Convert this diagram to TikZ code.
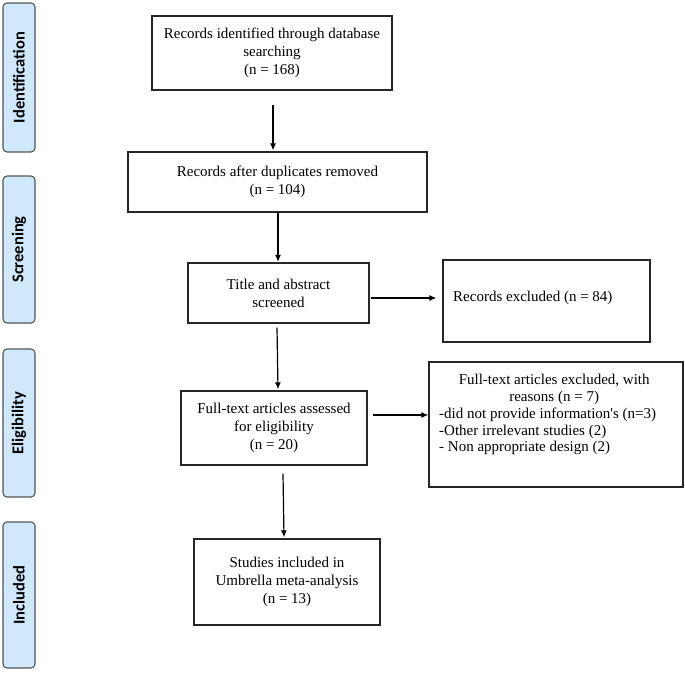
\documentclass[tikz,border=0pt]{standalone}
\usepackage{fontspec}
\setmainfont{Liberation Serif}
\newfontfamily\plainrm{Liberation Serif}[Ligatures=TeXOff]
\newfontfamily\sidefont{Carlito}
\usetikzlibrary{arrows.meta}
\definecolor{sidefill}{HTML}{CFE8FB}
\definecolor{sideline}{HTML}{555555}
\tikzset{
  mainbox/.style={draw=black!85, line width=1.3pt, rectangle, inner sep=0pt, align=center,
    font=\fontsize{15}{18}\selectfont},
  sidebox/.style={draw=sideline, fill=sidefill, line width=1.1pt, rounded corners=4pt,
    rotate=90, minimum height=32pt, inner sep=0pt, font=\sidefont\bfseries\fontsize{16.5}{19}\selectfont},
  arr/.style={line width=1.2pt, -{Latex[length=7pt,width=6pt]}},
}
\begin{document}
\begin{tikzpicture}[x=1pt,y=-1pt]
\useasboundingbox (0,0) rectangle (685,673);
% side labels
\node[sidebox, minimum width=149pt] (sId) at (19,77.5) {Identification};
\node[sidebox, minimum width=147pt] (sSc) at (19,249.5) {Screening};
\node[sidebox, minimum width=148pt] (sEl) at (19,423) {Eligibility};
\node[sidebox, minimum width=146pt] (sIn) at (19,595) {Included};
% main boxes
\node[mainbox, minimum width=240pt, minimum height=74pt] (b1) at (272,53)
  {Records identified through database\\searching\\(n = 168)};
\node[mainbox, minimum width=299pt, minimum height=60pt] (b2) at (277.5,182)
  {Records after duplicates removed\\(n = 104)};
\node[mainbox, minimum width=181pt, minimum height=60pt] (b3) at (278.5,293)
  {Title and abstract\\screened};
\node[mainbox, minimum width=207pt, minimum height=82pt] (b4) at (546.5,301) {};
\node[anchor=west, inner sep=0pt, font=\fontsize{15}{18}\selectfont] (t4) at (453,298) {Records excluded (n = 84)};
\node[mainbox, minimum width=186pt, minimum height=74pt] (b5) at (274,428)
  {Full-text articles assessed\\for eligibility\\(n = 20)};
\node[mainbox, minimum width=254pt, minimum height=125pt] (b6) at (556,424.5) {};
\node[anchor=west, inner sep=0pt, font=\fontsize{15}{16.8}\selectfont] (t6) at (439,415)
  {\begin{tabular}{@{}l@{}}
   \multicolumn{1}{@{\hspace{13pt}}c@{}}{Full-text articles excluded, with}\\
   \multicolumn{1}{@{\hspace{13pt}}c@{}}{reasons (n = 7)}\\
   -did not provide information{\plainrm '}s (n=3)\\
   -Other irrelevant studies (2)\\
   - Non appropriate design (2)
   \end{tabular}};
\node[mainbox, minimum width=186pt, minimum height=86pt] (b7) at (287,582)
  {Studies included in\\Umbrella meta-analysis\\(n = 13)};
% arrows
\draw[arr] ([xshift=1pt,yshift=-14pt]b1.south) -- ([xshift=-4.5pt,yshift=1pt]b2.north);
\draw[arr] ([xshift=0.5pt]b2.south) -- ([xshift=-0.5pt,yshift=0.5pt]b3.north);
\draw[arr] ([xshift=1pt,yshift=-5pt]b3.east) -- ([xshift=-6pt,yshift=3pt]b4.west);
\draw[arr] ([xshift=-1.5pt,yshift=-4pt]b3.south) -- ([xshift=4pt,yshift=1pt]b5.north);
\draw[arr] ([xshift=5pt,yshift=13pt]b5.east) -- ([yshift=9.5pt]b6.west);
\draw[arr] ([xshift=9pt,yshift=-8pt]b5.south) -- ([xshift=-3pt,yshift=1pt]b7.north);
\end{tikzpicture}
\end{document}
